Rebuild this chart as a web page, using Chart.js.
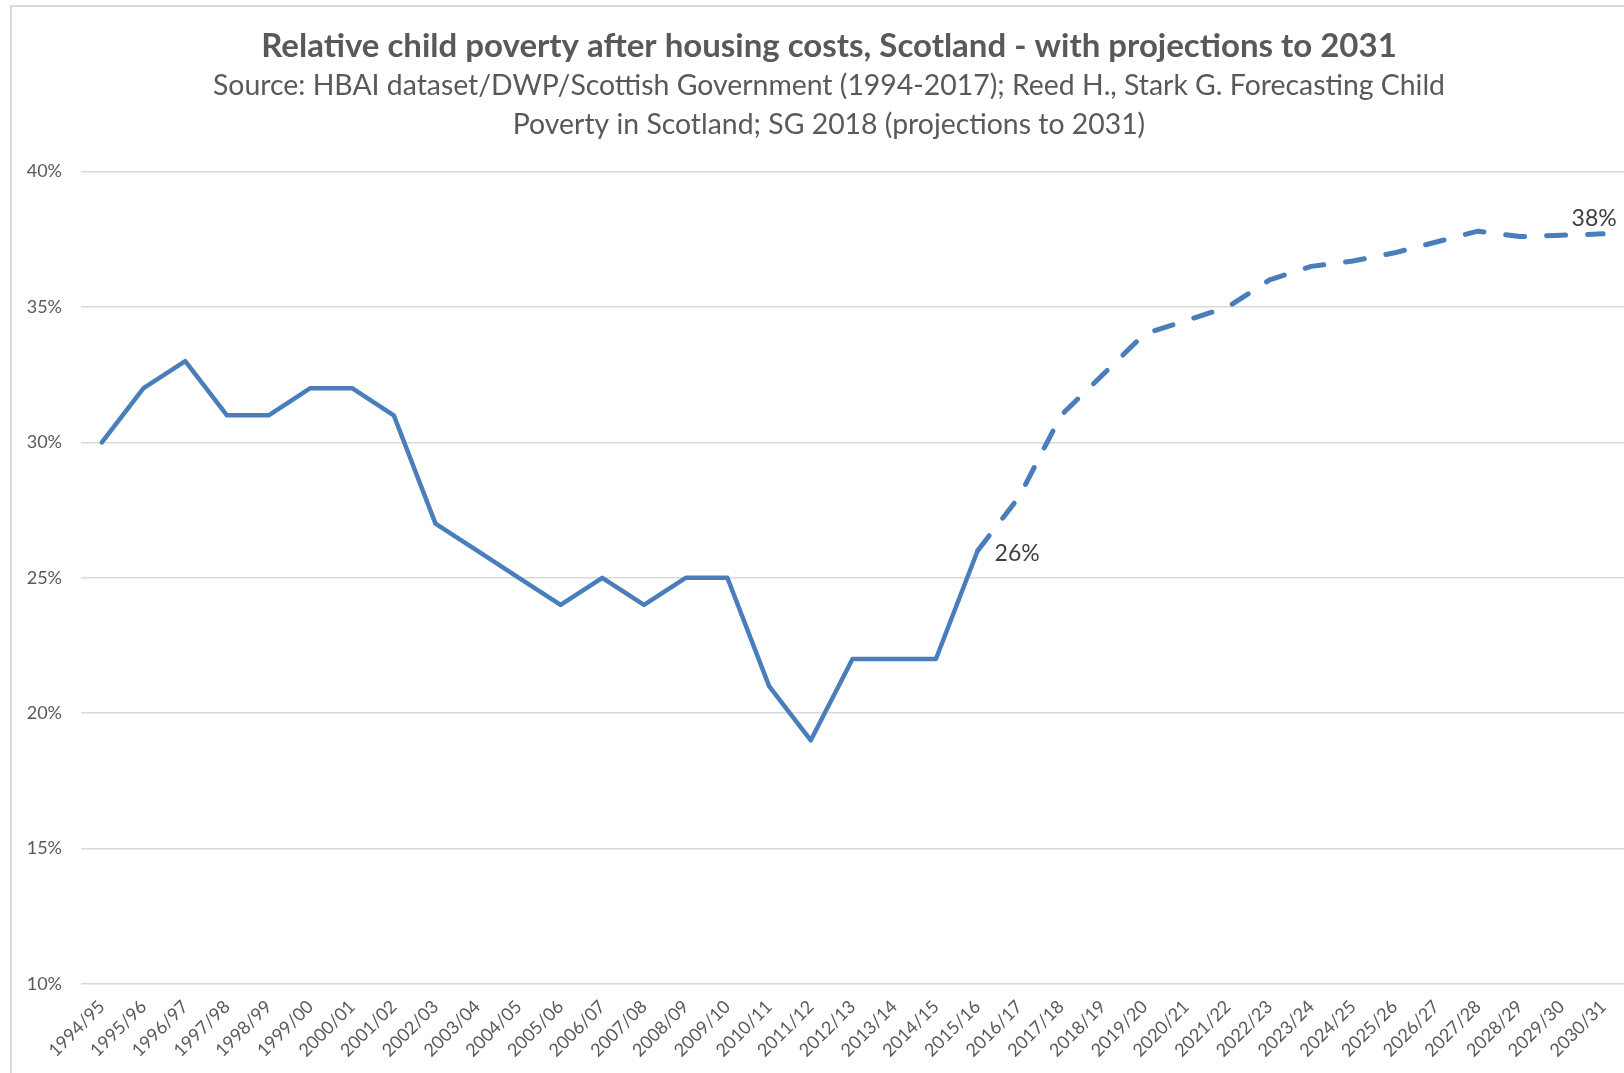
<!DOCTYPE html>
<html>
<head>
<meta charset="utf-8">
<script src="https://cdn.jsdelivr.net/npm/chart.js@4.4.0/dist/chart.umd.min.js"></script>
<style>
  html, body { margin: 0; padding: 0; background: #fff; overflow: hidden; }
  #frame {
    position: absolute; left: 10px; top: 5px; width: 1614px; height: 1068px;
    border-left: 2px solid #d9d9d9; border-top: 2px solid #d9d9d9;
  }
  #chart { display: block; }
</style>
</head>
<body>
<div id="frame"><canvas id="chart" width="1612" height="1066"></canvas></div>
<script>
// Financial years on the category axis
const years = [
  '1994/95', '1995/96', '1996/97', '1997/98', '1998/99', '1999/00', '2000/01', '2001/02',
  '2002/03', '2003/04', '2004/05', '2005/06', '2006/07', '2007/08', '2008/09', '2009/10',
  '2010/11', '2011/12', '2012/13', '2013/14', '2014/15', '2015/16', '2016/17', '2017/18',
  '2018/19', '2019/20', '2020/21', '2021/22', '2022/23', '2023/24', '2024/25', '2025/26',
  '2026/27', '2027/28', '2028/29', '2029/30', '2030/31'
];

// Observed rates, 1994/95 - 2015/16 (%)
const actualValues = [30, 32, 33, 31, 31, 32, 32, 31, 27, 26, 25, 24, 25, 24, 25, 25, 21, 19, 22, 22, 22, 26];

// Projections, 2015/16 - 2030/31 (%)
const projectedValues = [26, 28, 31, 32.5, 34, 34.5, 35, 36, 36.5, 36.7, 37, 37.4, 37.8, 37.6, 37.65, 37.7];

// Y axis ticks (%)
const yTicks = [10, 15, 20, 25, 30, 35, 40];

const projStart = years.length - projectedValues.length;
const actualData = actualValues.concat(Array(years.length - actualValues.length).fill(null));
const projectedData = Array(projStart).fill(null).concat(projectedValues);

const lineColor = '#4a7ebb';
const axisFont = { family: 'Lato', size: 18 };

// draws the two value labels (start of projection and its end)
const valueLabels = {
  id: 'valueLabels',
  afterDatasetsDraw(chart) {
    const ctx = chart.ctx;
    const pts = chart.getDatasetMeta(1).data;
    const first = pts[projStart];
    const last = pts[pts.length - 1];
    ctx.save();
    ctx.font = '23px Lato';
    ctx.fillStyle = '#404040';
    ctx.textBaseline = 'middle';
    ctx.textAlign = 'left';
    ctx.fillText(Math.round(projectedValues[0]) + '%', first.x + 17, first.y + 3);
    ctx.textAlign = 'center';
    ctx.fillText(Math.round(projectedValues[projectedValues.length - 1]) + '%', last.x - 9, last.y - 15);
    ctx.restore();
  }
};

// the original chart is cropped on the right, so its titles sit a little right of centre
const shiftTitles = {
  id: 'shiftTitles',
  afterLayout(chart) {
    chart.boxes.forEach(b => {
      if (!b.axis && b.options && 'text' in b.options) {
        b.left += 11;
        b.right += 11;
      }
    });
  }
};

new Chart(document.getElementById('chart'), {
  type: 'line',
  data: {
    labels: years,
    datasets: [
      {
        label: 'Relative child poverty (AHC)',
        data: actualData,
        borderColor: lineColor,
        borderWidth: 4.5,
        pointRadius: 0,
        tension: 0,
        borderJoinStyle: 'round',
        borderCapStyle: 'round'
      },
      {
        label: 'Projection',
        data: projectedData,
        borderColor: lineColor,
        borderWidth: 5,
        borderDash: [19, 22],
        borderCapStyle: 'round',
        pointRadius: 0,
        tension: 0,
        borderJoinStyle: 'round'
      }
    ]
  },
  options: {
    responsive: false,
    animation: false,
    layout: { padding: 0 },
    plugins: {
      legend: { display: false },
      tooltip: { enabled: false },
      title: {
        display: true,
        text: 'Relative child poverty after housing costs, Scotland - with projections to 2031',
        color: '#595959',
        font: { family: 'Lato', size: 33, weight: 'bold', lineHeight: 1.2 },
        padding: { top: 20, bottom: 0 }
      },
      subtitle: {
        display: true,
        text: [
          'Source: HBAI dataset/DWP/Scottish Government (1994-2017); Reed H., Stark G. Forecasting Child',
          'Poverty in Scotland; SG 2018 (projections to 2031)'
        ],
        color: '#595959',
        font: { family: 'Lato', size: 28.4, lineHeight: 1.373 },
        padding: { top: 0, bottom: 27 }
      }
    },
    scales: {
      x: {
        offset: true,
        grid: { display: false },
        border: { display: false },
        ticks: {
          autoSkip: false,
          maxRotation: 45,
          minRotation: 45,
          padding: 4,
          color: '#595959',
          font: axisFont
        },
        afterFit(axis) { axis.height = 89; }
      },
      y: {
        min: yTicks[0],
        max: yTicks[yTicks.length - 1],
        afterBuildTicks(axis) { axis.ticks = yTicks.map(v => ({ value: v })); },
        grid: { color: '#d9d9d9', lineWidth: 1.5, drawTicks: false },
        border: { display: false },
        ticks: {
          padding: 19,
          color: '#595959',
          font: axisFont,
          callback: v => v + '%'
        },
        afterFit(axis) { axis.width = 69; }
      }
    }
  },
  plugins: [valueLabels, shiftTitles]
});
</script>
</body>
</html>
